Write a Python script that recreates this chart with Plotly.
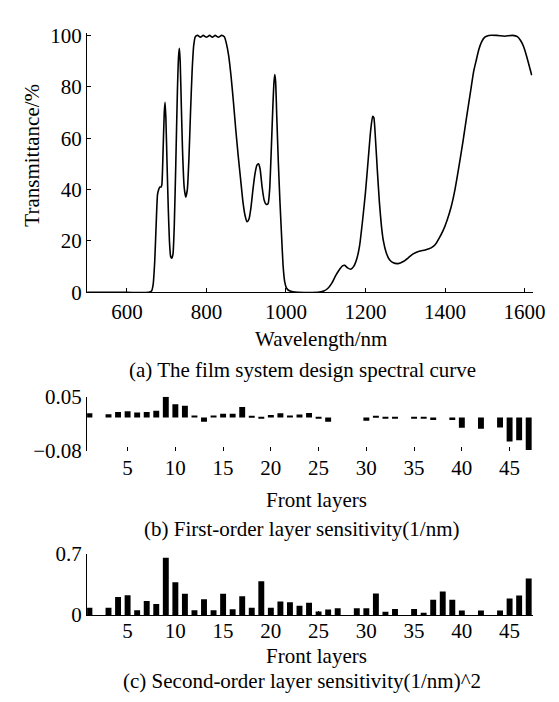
import plotly.graph_objects as go

# ---------------- data ----------------
wavelength = [500, 600, 655, 662, 666, 670, 674, 677, 680, 683, 686, 688, 691, 694, 696, 698, 701, 704,
              707, 710, 713, 716, 719, 723, 727, 730, 732, 734, 737, 740, 744, 748, 752, 756, 760, 764,
              768, 772, 778, 785, 792, 800, 808, 815, 822, 830, 838, 845, 850, 856, 862, 868, 874, 880,
              886, 892, 897, 902, 907, 912, 917, 922, 927, 931, 935, 940, 945, 950, 955, 959, 963, 967,
              970, 972, 974, 977, 981, 985, 989, 993, 997, 1002, 1010, 1030, 1080, 1095, 1105, 1115,
              1125, 1135, 1142, 1148, 1155, 1163, 1170, 1178, 1185, 1192, 1200, 1207, 1213, 1218, 1221,
              1225, 1230, 1235, 1240, 1245, 1252, 1260, 1270, 1282, 1295, 1308, 1320, 1335, 1350, 1365,
              1375, 1385, 1395, 1405, 1415, 1425, 1435, 1445, 1455, 1465, 1472, 1478, 1485, 1492, 1500,
              1510, 1530, 1550, 1570, 1582, 1590, 1598, 1605, 1612, 1618]
transmittance = [0, 0, 0, 0.5, 3, 12, 28, 38, 40, 41, 41, 42, 55, 70, 74, 68, 50, 33,
                 20, 14, 13.3, 15, 25, 50, 78, 92, 95, 90, 72, 55, 41, 37, 40, 52, 70, 86,
                 96, 99.5, 100, 99.3, 100, 99.3, 100, 99.3, 100, 99.3, 100, 99.5, 97, 92, 84, 74, 63, 53,
                 44, 35, 30, 27.5, 28.5, 33, 40, 46, 49.5, 50, 48, 41, 36, 34.3, 34.5, 40, 55, 72,
                 82, 84.8, 82, 68, 50, 35, 22, 10, 4, 1.5, 0.5, 0, 0, 0.5, 1.5, 3.5,
                 6.5, 9, 10.3, 10.5, 9.5, 9, 10, 13, 18, 27, 39, 52, 63, 68.5, 68,
                 60, 47, 35, 26, 20, 15.5, 12.8, 11.5, 11.2, 12, 13.5, 15, 16, 16.5, 17.3,
                 18.5, 21, 24, 28, 33, 40, 49, 58.6, 69, 79, 86, 90, 94.5, 97.5, 99.3,
                 100, 100, 99.7, 100, 99.5, 98, 95.5, 92, 88, 84.5]

layers = list(range(1, 48))
first_order = [0.010, 0, 0.008, 0.013, 0.015, 0.012, 0.013, 0.016, 0.050, 0.032, 0.028, 0.005,
               -0.010, 0.005, 0.009, 0.009, 0.025, 0.004, -0.002, 0.006, 0.010, 0.005, 0.007, 0.011,
               -0.002, -0.010, 0, 0, 0, -0.008, 0.002, -0.002, -0.002, 0, -0.002, -0.002,
               -0.006, 0, -0.006, -0.025, 0, -0.027, 0, -0.024, -0.058, -0.055, -0.078]
second_order = [0.083, 0, 0.083, 0.205, 0.226, 0.054, 0.16, 0.126, 0.657, 0.377, 0.244, 0.054,
                0.18, 0.054, 0.244, 0.065, 0.215, 0.083, 0.388, 0.083, 0.156, 0.145, 0.105, 0.14,
                0.04, 0.062, 0.076, 0, 0.076, 0.076, 0.247, 0.036, 0.069, 0, 0.069, 0.025,
                0.174, 0.27, 0.174, 0.05, 0, 0.05, 0, 0.05, 0.19, 0.225, 0.42]

wl_ticks = [600, 800, 1000, 1200, 1400, 1600]
t_ticks = [0, 20, 40, 60, 80, 100]
layer_ticks = [5, 10, 15, 20, 25, 30, 35, 40, 45]

# ---------------- figure ----------------
W, H = 559, 702
FONT = "Liberation Serif"
FS = 21

def py(p):
    return 1 - p / H

xdom = [81 / W, 537 / W]

fig = go.Figure()
fig.add_trace(go.Scatter(x=wavelength, y=transmittance, mode="lines",
                         line=dict(color="black", width=1.6, shape="spline", smoothing=0.5),
                         xaxis="x", yaxis="y", showlegend=False, hoverinfo="skip"))
fig.add_trace(go.Bar(x=layers, y=first_order, marker=dict(color="black", line=dict(width=0)),
                     xaxis="x2", yaxis="y2", showlegend=False))
fig.add_trace(go.Bar(x=layers, y=second_order, marker=dict(color="black", line=dict(width=0)),
                     xaxis="x3", yaxis="y3", showlegend=False))

axis_common = dict(showgrid=False, zeroline=False, tickfont=dict(family=FONT, size=FS, color="black"),
                   ticks="inside", ticklen=4, tickcolor="black")

fig.update_layout(
    width=W, height=H, margin=dict(l=0, r=0, t=0, b=0),
    paper_bgcolor="white", plot_bgcolor="white",
    bargap=0.38,
    font=dict(family=FONT, size=FS, color="black"),
    xaxis=dict(domain=xdom, range=[500, 1620], tickvals=wl_ticks, anchor="y",
               showline=True, linecolor="black", linewidth=1.2, **axis_common),
    yaxis=dict(domain=[py(282), py(13.3)], range=[0, 101], tickvals=t_ticks, anchor="x",
               showline=True, linecolor="black", linewidth=1.2, **axis_common),
    xaxis2=dict(domain=xdom, range=[0.76, 47.4], tickvals=layer_ticks, anchor="y2",
                showline=False, ticklabelstandoff=2, **axis_common),
    yaxis2=dict(domain=[py(446), py(390)], range=[-0.08, 0.05], tickvals=[-0.08, 0.05],
                ticktext=["\u22120.08", "0.05"], anchor="x2",
                showline=True, linecolor="black", linewidth=1.2, **axis_common),
    xaxis3=dict(domain=xdom, range=[0.76, 47.4], tickvals=layer_ticks, anchor="y3",
                showline=True, linecolor="black", linewidth=1.2, ticklabelstandoff=-3, **axis_common),
    yaxis3=dict(domain=[py(616), py(553)], range=[0, 0.7], tickvals=[0, 0.7],
                ticktext=["0", "0.7"], anchor="x3",
                showline=True, linecolor="black", linewidth=1.2, **axis_common),
)

annots = [
    dict(text="Transmittance/%", x=25 / W, y=py(140), textangle=-90),
    dict(text="Wavelength/nm", x=320 / W, y=py(330)),
    dict(text="(a) The film system design spectral curve", x=301 / W, y=py(362)),
    dict(text="Front layers", x=316 / W, y=py(497)),
    dict(text="(b) First-order layer sensitivity(1/nm)", x=301 / W, y=py(527)),
    dict(text="Front layers", x=316 / W, y=py(659)),
    dict(text="(c) Second-order layer sensitivity(1/nm)^2", x=301 / W, y=py(684)),
]
for a in annots:
    fig.add_annotation(xref="paper", yref="paper", showarrow=False, xanchor="center", yanchor="middle",
                       font=dict(family=FONT, size=FS, color="black"), **a)

fig.write_html("out.html")
